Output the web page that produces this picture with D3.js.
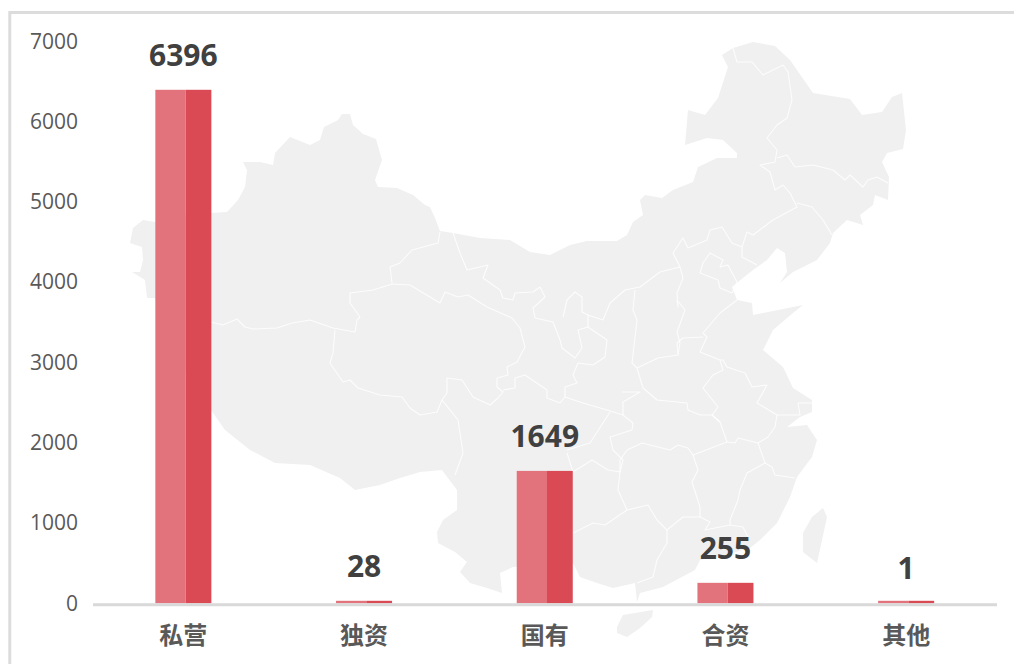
<!DOCTYPE html>
<html lang="zh"><head><meta charset="utf-8">
<script src="https://cdn.jsdelivr.net/npm/d3@7"></script>
<style>html,body{margin:0;padding:0;background:#fff;overflow:hidden}svg{display:block}</style>
</head><body><svg id="c" width="1014" height="664"></svg>
<script>
const categories = ["私营","独资","国有","合资","其他"];
const counts = [6396,28,1649,255,1];
const yTicks = [0,1000,2000,3000,4000,5000,6000,7000];

// Decorative backdrop (map silhouette and internal borders)
const mapLand = [
[[130,243],[133,228],[143,220],[155,222],[175,216],[211,213],[227,212],[238,200],[245,187],[247,170],[243,162],[260,162],[273,165],[275,153],[290,137],[310,145],[320,140],[324,127],[338,120],[342,114],[350,114],[353,125],[363,134],[376,139],[382,160],[375,180],[378,187],[397,188],[413,195],[425,205],[430,207],[435,218],[440,231],[453,233],[480,238],[510,240],[530,252],[550,255],[570,245],[587,241],[617,241],[627,235],[633,222],[643,215],[640,200],[645,195],[662,198],[673,190],[693,182],[698,167],[717,158],[737,158],[737,153],[723,140],[707,138],[685,145],[688,110],[705,115],[718,98],[728,67],[722,55],[733,48],[753,42],[775,46],[790,60],[813,93],[850,99],[862,115],[882,112],[892,97],[902,93],[906,130],[903,149],[887,153],[882,162],[889,177],[888,200],[875,195],[873,205],[860,215],[863,225],[847,220],[833,233],[830,243],[817,260],[793,272],[780,283],[787,272],[785,253],[777,248],[767,260],[753,270],[743,278],[732,287],[737,300],[752,303],[753,315],[803,305],[793,313],[773,330],[763,350],[783,367],[793,388],[812,400],[812,412],[800,417],[787,427],[807,425],[817,440],[812,457],[797,477],[790,497],[777,523],[760,540],[750,548],[725,555],[700,560],[695,570],[663,587],[640,593],[637,602],[635,583],[613,588],[597,583],[580,577],[573,563],[545,565],[513,567],[500,573],[502,593],[487,588],[470,583],[460,572],[467,562],[455,552],[438,543],[437,532],[443,520],[457,510],[457,490],[448,478],[442,470],[420,472],[400,478],[380,485],[355,490],[340,478],[310,465],[275,463],[250,450],[225,430],[211,410],[190,380],[165,330],[155,298],[147,298],[145,280],[132,272],[140,272],[143,260],[142,247]],
[[617,627],[623,615],[653,610],[652,617],[640,628],[627,637],[617,633]],
[[823,508],[827,517],[822,540],[817,563],[803,552],[803,533],[812,517]]
];
const mapBorders = [
[[211,322],[223,325],[237,319],[245,327],[253,329],[277,328],[292,323],[310,320],[333,328],[355,332],[357,320],[360,317],[350,303],[350,293],[373,290],[392,284],[410,285],[430,297],[440,303],[445,292],[458,297],[468,295],[487,307],[512,318],[520,328],[525,347],[517,362],[507,367],[508,375],[497,378],[497,387],[503,392],[498,398],[490,405],[473,397],[462,380],[447,378],[447,393],[442,400],[437,412],[420,415],[410,408],[402,397],[380,395],[358,388],[350,380],[343,382],[330,363],[333,353],[335,330]],
[[442,400],[458,420],[463,453],[455,475]],
[[392,283],[390,267],[400,263],[412,250],[438,243],[440,232]],
[[453,233],[460,253],[467,270],[488,265],[483,278],[500,290],[503,298],[513,300],[515,293],[533,292],[540,287],[545,297],[533,308],[535,318],[553,322],[560,340],[562,348],[575,358],[582,348],[578,330],[588,327],[607,340],[605,357],[593,365],[578,363],[573,375],[577,383],[565,387],[565,397],[560,403],[547,398],[547,390],[525,375],[515,378],[515,388],[503,390]],
[[563,317],[567,300],[575,292],[582,297],[582,312],[588,315],[588,327]],
[[588,315],[603,320],[610,303],[625,290],[640,287],[660,272],[680,267],[673,253],[683,238],[688,248],[707,240],[710,230],[722,227],[732,243],[742,247],[747,232],[753,235],[773,220],[797,207],[790,193],[783,185],[775,190],[770,172],[760,165],[775,162],[777,150],[767,138],[777,125],[787,118],[792,100],[788,72],[783,65],[763,75],[752,62],[737,62],[733,48]],
[[635,290],[633,310],[637,320],[632,363],[637,368],[643,388],[657,400],[687,403],[688,410],[700,415],[712,415],[720,422],[727,442],[693,455],[688,448],[678,445],[670,450],[642,443],[627,450],[620,460],[620,472],[618,490],[627,510],[648,505],[657,520],[667,530],[683,517],[700,517],[710,522],[705,530],[730,525],[743,527],[748,537]],
[[565,397],[583,403],[607,410],[623,415],[633,423],[632,430],[610,437],[613,450],[623,460],[620,472],[608,470],[592,460],[573,472],[567,453]],
[[610,412],[590,443],[567,450]],
[[622,392],[640,392],[623,402],[623,415]],
[[573,533],[593,523],[605,525],[627,510]],
[[667,530],[667,543],[657,560],[653,577],[637,583]],
[[693,455],[698,470],[692,482],[700,507],[700,517]],
[[727,442],[735,443],[738,438],[758,443],[765,463],[747,473],[740,490],[738,500],[730,520],[730,525]],
[[765,463],[772,467],[775,475],[795,478]],
[[758,443],[768,437],[775,427],[777,415],[757,403],[767,385],[752,387],[745,373],[727,367],[723,360],[720,360],[700,352],[707,337],[703,333],[720,313],[737,300]],
[[720,422],[712,415],[718,407],[703,388],[713,375],[723,370],[720,360]],
[[777,415],[800,415],[798,403],[812,403]],
[[637,368],[658,358],[678,355],[677,343],[683,338],[703,337]],
[[678,355],[680,343],[677,332],[685,310],[677,300],[678,307],[677,293],[683,278],[680,267]],
[[777,158],[787,155],[795,167],[813,165],[833,170],[845,180],[850,175],[863,187],[868,180],[877,177],[888,183]],
[[797,203],[812,207],[823,220],[832,235]],
[[742,247],[742,257],[757,265]],
[[700,273],[703,263],[710,253],[723,260],[720,267],[728,265],[737,282],[732,293]],
[[700,273],[718,280],[720,288],[732,293]]
];

const svg = d3.select("#c");
const x = d3.scaleBand().domain(categories).range([93,996.5]).paddingInner(0.69).paddingOuter(0.345);
const y = d3.scaleLinear().domain([0,7000]).range([603.3,41.3]);
const numFont = "'Open Sans','Noto Sans',sans-serif";
const cjkFont = "'Noto Sans CJK SC','Noto Sans',sans-serif";

// frame
svg.append("path").attr("d","M9.8,664V12.5H1014").attr("fill","none").attr("stroke","#dcdcdc").attr("stroke-width",3);

// map
const line = d3.line();
const map = svg.append("g");
map.selectAll("path.land").data(mapLand).join("path").attr("class","land")
  .attr("d",d=>line(d)+"Z").attr("fill","#f0f0f0");
map.selectAll("path.border").data(mapBorders).join("path").attr("class","border")
  .attr("d",line).attr("fill","none").attr("stroke","#fff").attr("stroke-opacity",0.8).attr("stroke-width",1.1).attr("stroke-linejoin","round");

// bars: lighter left part, darker right part
const leftShare = 0.54;
const bars = svg.append("g").selectAll("g").data(categories.map((c,i)=>({c,v:counts[i]}))).join("g");
bars.append("rect").attr("x",d=>x(d.c)).attr("width",x.bandwidth()*leftShare)
  .attr("y",d=>y(d.v)).attr("height",d=>y(0)-y(d.v)).attr("fill","#e2727b");
bars.append("rect").attr("x",d=>x(d.c)+x.bandwidth()*leftShare).attr("width",x.bandwidth()*(1-leftShare))
  .attr("y",d=>y(d.v)).attr("height",d=>y(0)-y(d.v)).attr("fill","#d94a55");
// thin marks stay visible above the baseline
bars.filter(d=>y(0)-y(d.v)<3).selectAll("rect").attr("y",y(0)-2.5).attr("height",2.5);

bars.append("text").attr("x",d=>x(d.c)+x.bandwidth()/2).attr("y",d=>y(d.v)-24)
  .attr("text-anchor","middle").attr("font-family",numFont).attr("font-weight",700)
  .attr("font-size",30).attr("fill","#404040").text(d=>d.v);

// y axis
const yAxis = svg.append("g").attr("transform","translate(86,0)")
  .call(d3.axisLeft(y).tickValues(yTicks).tickSize(0).tickPadding(8).tickFormat(d3.format("d")));
yAxis.select(".domain").remove();
yAxis.selectAll("text").attr("font-family",numFont).attr("font-size",21).attr("fill","#595959");

// x axis
const xAxis = svg.append("g").attr("transform",`translate(0,${y(0)+1})`)
  .call(d3.axisBottom(x).tickSize(0).tickPadding(0));
xAxis.select(".domain").attr("d","M93,0.5H997").attr("stroke","#d9d9d9").attr("stroke-width",3);
xAxis.selectAll("text").attr("y",0).attr("dy",0).attr("transform","translate(0,40)")
  .attr("font-family",cjkFont).attr("font-size",24).attr("font-weight",700).attr("fill","#595959");
</script></body></html>
